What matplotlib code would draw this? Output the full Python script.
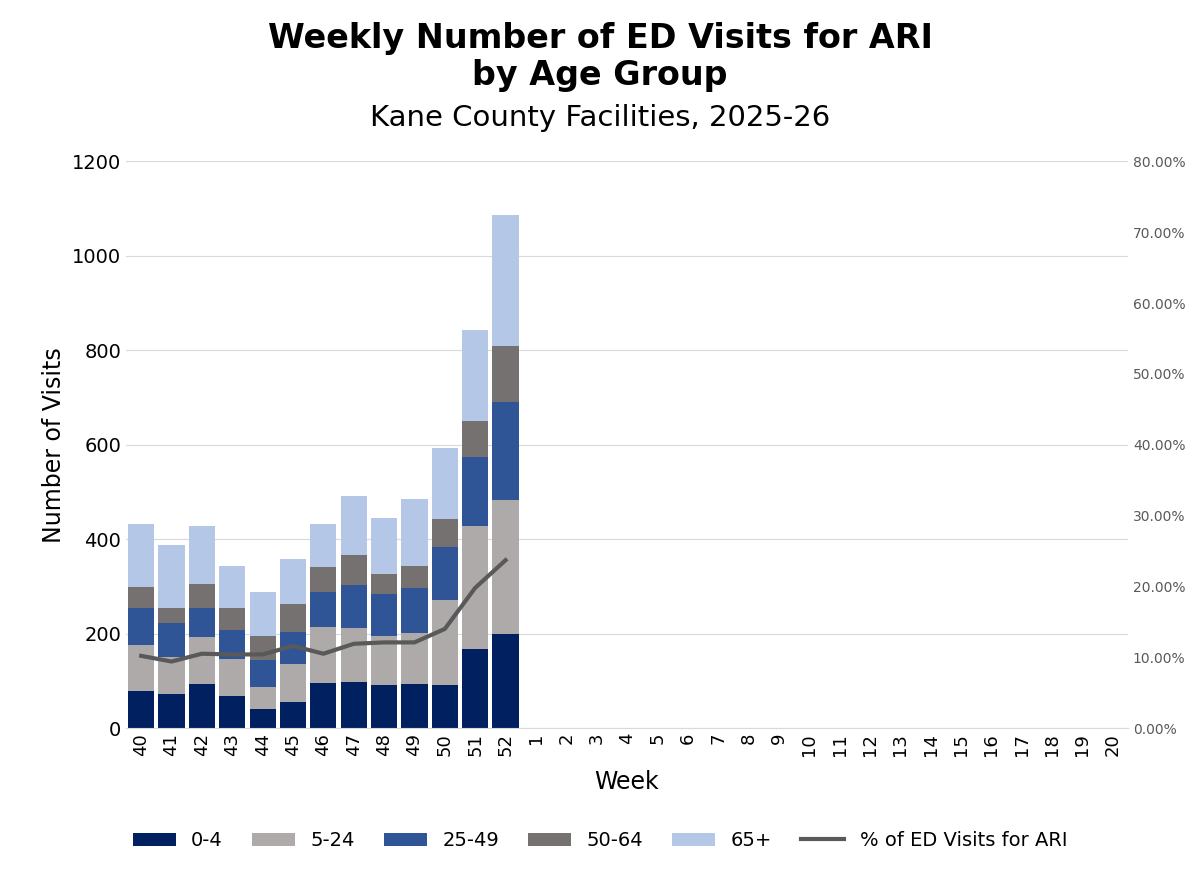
import matplotlib
matplotlib.use("Agg")
import matplotlib.pyplot as plt
import numpy as np
from matplotlib.ticker import PercentFormatter

plt.rcParams['font.family'] = ['DejaVu Sans']

weeks = [str(w) for w in list(range(40, 53)) + list(range(1, 21))]
age_0_4 = [78, 72, 93, 67, 41, 56, 96, 97, 92, 93, 92, 167, 200]
age_5_24 = [97, 79, 99, 80, 47, 80, 119, 114, 102, 108, 180, 261, 283]
age_25_49 = [80, 71, 63, 61, 56, 68, 73, 92, 91, 95, 112, 145, 208]
age_50_64 = [44, 33, 50, 46, 52, 59, 53, 64, 41, 47, 59, 78, 118]
age_65p = [133, 133, 123, 89, 92, 95, 91, 124, 119, 142, 149, 192, 277]
pct_ari = [10.2, 9.4, 10.5, 10.4, 10.4, 11.6, 10.5, 11.9, 12.1, 12.1, 14.0, 19.8, 23.7]

series = [("0-4", age_0_4, "#002060"), ("5-24", age_5_24, "#AEAAAA"),
          ("25-49", age_25_49, "#2F5597"), ("50-64", age_50_64, "#767171"),
          ("65+", age_65p, "#B4C7E7")]

fig, ax = plt.subplots(figsize=(12, 8.72), dpi=100)
fig.subplots_adjust(left=0.105, right=0.94, top=0.815, bottom=0.165)

x = np.arange(len(weeks))
n = len(age_0_4)
bottom = np.zeros(n)
handles = []
for name, vals, col in series:
    b = ax.bar(x[:n], vals, 0.86, bottom=bottom, color=col, label=name, zorder=2)
    bottom += np.array(vals)
    handles.append(b)

ax.set_xlim(-0.5, len(weeks) - 0.5)
ax.set_ylim(0, 1200)
ax.set_yticks(range(0, 1201, 200))
ax.set_xticks(x)
ax.set_xticklabels(weeks, rotation=90, fontsize=13)
ax.tick_params(axis='y', labelsize=14, length=0)
ax.tick_params(axis='x', length=0)
ax.grid(axis='y', color='#D9D9D9', zorder=0)
for s in ['top', 'right', 'left']:
    ax.spines[s].set_visible(False)
ax.spines['bottom'].set_color('#D9D9D9')
ax.set_xlabel("Week", fontsize=17, labelpad=10)
ax.set_ylabel("Number of Visits", fontsize=17)

ax2 = ax.twinx()
line, = ax2.plot(x[:n], pct_ari, color="#595959", lw=3, label="% of ED Visits for ARI")
ax2.set_ylim(0, 80)
ax2.set_yticks(range(0, 81, 10))
ax2.yaxis.set_major_formatter(PercentFormatter(decimals=2))
ax2.tick_params(axis='y', labelsize=10, length=0, colors='#595959')
for s in ['top', 'right', 'left', 'bottom']:
    ax2.spines[s].set_visible(False)

fig.text(0.5, 0.975, "Weekly Number of ED Visits for ARI\nby Age Group", ha='center', va='top',
         fontsize=24, fontweight='bold', linespacing=1.15)
fig.text(0.5, 0.865, "Kane County Facilities, 2025-26", ha='center', va='center', fontsize=21)

fig.legend(handles + [line], [s[0] for s in series] + [line.get_label()], loc='lower center',
           bbox_to_anchor=(0.5, 0.005), ncol=6, frameon=False, fontsize=14,
           handlelength=2.2, columnspacing=1.5)

fig.savefig("out.png")
